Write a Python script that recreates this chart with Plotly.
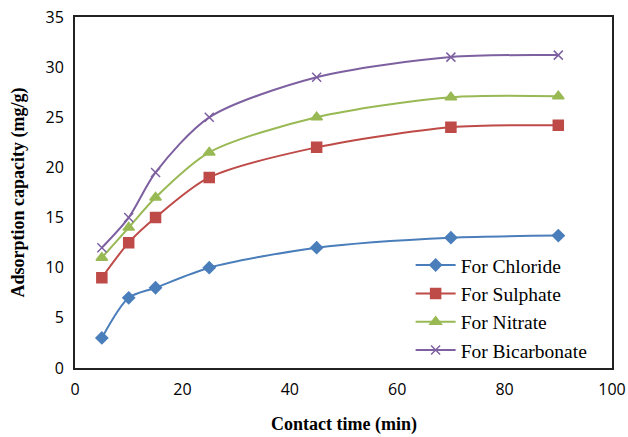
import plotly.graph_objects as go

time_min = [5, 10, 15, 25, 45, 70, 90]
chloride = [3, 7, 8, 10, 12, 13, 13.2]
sulphate = [9, 12.5, 15, 19, 22, 24, 24.2]
nitrate = [11, 14, 17, 21.5, 25, 27, 27.1]
bicarbonate = [12, 15, 19.5, 25, 29, 31, 31.2]

series = [
    ("For Chloride", chloride, "#4A7EBB", "diamond", 9),
    ("For Sulphate", sulphate, "#BE4B48", "square", 10),
    ("For Nitrate", nitrate, "#98B954", "triangle-up", 10),
    ("For Bicarbonate", bicarbonate, "#7D60A0", "x-thin", 9),
]

fig = go.Figure()
for name, vals, color, sym, size in series:
    fig.add_trace(go.Scatter(
        x=time_min, y=vals, name=name, mode="lines+markers",
        line=dict(color=color, width=2, shape="spline", smoothing=0.8),
        marker=dict(symbol=sym, size=size, color=color,
                    line=dict(color=color, width=1.5)),
    ))

serif = "Liberation Serif"
tick_font = dict(family="Open Sans", size=16, color="black")

fig.update_layout(
    width=628, height=437,
    margin=dict(l=75, r=16, t=17, b=69),
    paper_bgcolor="white", plot_bgcolor="white",
    font=dict(family=serif, color="black"),
    showlegend=True,
    legend=dict(x=0.625, y=0.348, xanchor="left", yanchor="top",
                font=dict(family=serif, size=19.5, color="black"),
                bgcolor="rgba(0,0,0,0)", tracegroupgap=0, itemwidth=40),
    xaxis=dict(range=[0, 100], dtick=20, showgrid=False, zeroline=False,
               automargin=False, ticklabelstandoff=6,
               showline=True, linecolor="#222", linewidth=2, mirror=True,
               ticks="", tickfont=tick_font),
    yaxis=dict(range=[0, 35], dtick=5, showgrid=False, zeroline=False,
               automargin=False, ticklabelstandoff=6,
               showline=True, linecolor="#222", linewidth=2, mirror=True,
               ticks="", tickfont=tick_font),
    annotations=[
        dict(text="<b>Contact time (min)</b>", xref="paper", yref="paper",
             x=0.5, y=-0.162, xanchor="center", yanchor="middle",
             showarrow=False, font=dict(family=serif, size=18, color="black")),
        dict(text="<b>Adsorption capacity (mg/g)</b>", xref="paper", yref="paper",
             x=-0.106, y=0.5, xanchor="center", yanchor="middle", textangle=-90,
             showarrow=False, font=dict(family=serif, size=18, color="black")),
    ],
)

fig.write_html("out.html")
